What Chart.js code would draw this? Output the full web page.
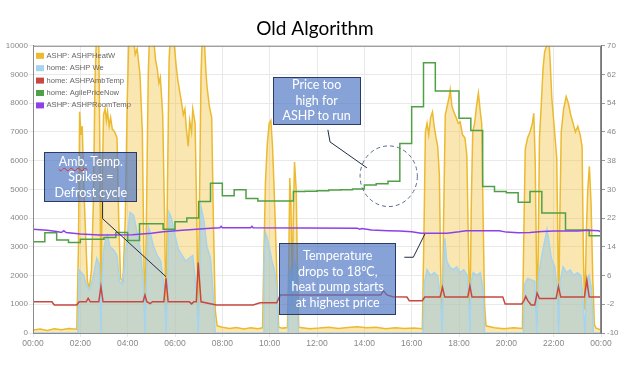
<!DOCTYPE html>
<html>
<head>
<meta charset="utf-8">
<script src="https://cdn.jsdelivr.net/npm/chart.js@4.4.1/dist/chart.umd.min.js"></script>
<style>
  html, body { margin: 0; padding: 0; background: #fff; }
  #wrap { position: relative; width: 630px; height: 365px; }
  .note {
    position: absolute; box-sizing: border-box;
    background: rgba(78, 118, 196, 0.68); border: 1px solid #2b3a66;
    color: #fff; font-family: Lato, "Open Sans", sans-serif; font-size: 12.5px;
    line-height: 15.5px; text-align: center; white-space: nowrap;
    display: flex; flex-direction: column; justify-content: center;
  }
  .typo { text-decoration: underline wavy #d83030; text-decoration-thickness: 1px; }
</style>
</head>
<body>
<div id="wrap">
  <canvas id="chart" width="630" height="365"></canvas>
</div>
<script>
// [hour, watts]
const heatW = [
  [0,100],[0.3,140],[0.6,90],[0.9,150],[1.2,110],[1.5,160],[1.85,130],
  [1.92,3000],[1.97,7700],[2.03,6900],[2.08,7200],[2.15,5000],[2.22,3500],[2.3,1800],[2.38,1550],[2.47,2200],
  [2.55,4500],[2.62,8800],[2.68,10300],[2.78,10100],[2.83,6000],[2.87,300],[2.92,5000],[2.98,7600],[3.05,7800],
  [3.1,7400],[3.15,7700],[3.22,7200],[3.28,7500],[3.35,7100],[3.45,7000],[3.55,6800],[3.62,4000],[3.7,1900],
  [3.8,1800],[3.9,4000],[3.98,8000],[4.05,10300],[4.25,10200],[4.32,9700],[4.4,9900],[4.52,9000],[4.62,7000],
  [4.68,3000],[4.73,300],[4.8,4500],[4.87,9000],[4.92,10300],[5.1,10200],[5.18,9500],[5.25,9200],[5.32,8700],
  [5.38,8900],[5.48,7600],[5.56,4000],[5.62,300],[5.68,5000],[5.75,9500],[5.8,10300],[5.95,10200],[6.05,9300],
  [6.12,8800],[6.2,8400],[6.28,8000],[6.35,7600],[6.42,7800],[6.48,7100],[6.56,6500],[6.62,7400],[6.7,7000],
  [6.75,7800],[6.85,7300],[6.92,4000],[6.98,300],[7.04,5000],[7.1,9000],[7.15,10300],[7.25,10000],[7.3,9200],
  [7.35,8600],[7.45,7900],[7.55,7500],[7.62,4000],[7.7,800],[7.78,250],
  [8.0,200],[8.3,160],[8.6,190],[8.9,140],[9.2,180],[9.5,150],[9.7,180],
  [9.75,2500],[9.82,5200],[9.9,6600],[9.98,7300],[10.05,7400],[10.12,6500],[10.18,5200],[10.25,3500],
  [10.32,1500],[10.38,200],[10.55,170],[10.75,190],
  [10.8,2000],[10.85,5400],[10.9,4500],[10.95,1500],[11.0,4000],[11.05,5950],[11.12,5000],[11.18,2000],[11.23,200],
  [11.7,150],[12.1,170],[12.5,200],[12.9,160],[13.3,190],[13.7,220],[14.1,180],[14.5,200],[14.9,150],
  [15.3,180],[15.7,160],[16.1,170],[16.45,150],
  [16.52,3500],[16.58,7000],[16.65,7300],[16.72,6900],[16.8,7500],[16.88,7700],[16.95,7200],[17.03,6800],
  [17.1,6500],[17.17,5500],[17.23,2000],[17.29,300],[17.35,4000],[17.42,7600],[17.5,7900],[17.58,8200],
  [17.63,8470],[17.7,7900],[17.78,7700],[17.88,7500],[17.97,7300],[18.05,7350],[18.15,6900],[18.25,6800],
  [18.33,6200],[18.4,3000],[18.46,300],[18.52,4500],[18.58,7000],[18.66,7300],[18.74,7900],[18.82,8350],
  [18.9,7700],[18.96,7300],[19.02,4000],[19.08,1000],[19.14,250],
  [19.5,180],[19.9,150],[20.3,180],[20.68,160],
  [20.74,3500],[20.8,6400],[20.9,6800],[21.0,7000],[21.1,7300],[21.16,7650],[21.22,6000],[21.28,2000],
  [21.3,300],[21.35,3000],[21.4,6800],[21.48,8000],[21.55,9200],[21.62,9800],[21.7,10000],[21.78,10400],
  [21.85,9500],[21.92,8200],[22.0,7400],[22.08,6600],[22.13,6100],[22.18,3000],[22.21,300],[22.26,4000],
  [22.32,7000],[22.42,7800],[22.53,8230],[22.62,8000],[22.72,7600],[22.82,7300],[22.92,7000],[23.02,7200],
  [23.12,6900],[23.2,6500],[23.26,2500],[23.32,800],[23.38,3500],[23.44,5000],[23.51,5800],[23.58,4500],
  [23.65,2000],[23.72,300],[23.78,180],[24,100]
];

// [hour, watts]
const weW = [
  [0,0],[1.9,0],
  [1.95,2200],[2.05,2100],[2.15,2000],[2.25,1700],[2.38,1500],[2.5,1800],[2.6,2200],[2.7,2600],[2.8,2400],
  [2.85,800],[2.87,0],[2.9,1500],[2.97,2800],[3.05,3200],[3.15,3400],[3.25,3000],[3.4,2900],[3.55,2700],
  [3.65,1800],[3.75,1700],[3.85,2200],[3.98,3400],[4.1,4200],[4.25,4100],[4.4,3500],[4.55,2800],[4.68,1500],
  [4.73,0],[4.78,1500],[4.87,3700],[4.95,3500],[5.1,3000],[5.25,2700],[5.4,2500],[5.55,1500],[5.62,0],
  [5.68,1500],[5.75,4200],[5.85,4000],[6.0,3400],[6.15,2900],[6.3,2700],[6.45,2500],[6.6,2600],[6.75,2700],
  [6.9,1500],[6.98,0],[7.04,1500],[7.1,4400],[7.22,3900],[7.35,3000],[7.5,2600],[7.6,1500],[7.7,0],
  [9.72,0],[9.76,2500],[9.82,3500],[9.9,3300],[10.0,2900],[10.1,2500],[10.2,2200],[10.3,1500],[10.36,0],
  [10.78,0],[10.82,2000],[10.88,2300],[10.93,1000],[10.98,2000],[11.05,2500],[11.15,2200],[11.21,0],
  [16.48,0],[16.55,1800],[16.65,2200],[16.8,2000],[16.95,2100],[17.1,2000],[17.22,1200],[17.29,0],
  [17.34,2000],[17.4,3300],[17.48,2500],[17.6,2300],[17.75,2200],[17.9,2300],[18.05,2100],[18.2,2200],
  [18.35,2000],[18.43,800],[18.46,0],[18.52,1800],[18.6,2100],[18.75,2000],[18.9,2100],[19.02,1500],[19.08,0],
  [20.72,0],[20.78,1700],[20.9,1900],[21.05,1850],[21.2,1800],[21.28,0],[21.34,1800],[21.42,2300],
  [21.52,2800],[21.62,3200],[21.72,3600],[21.78,3300],[21.9,2600],[22.05,2300],[22.15,1500],[22.21,0],
  [22.27,1800],[22.4,2300],[22.55,2100],[22.7,2200],[22.85,2000],[23.0,2100],[23.15,2000],[23.25,1000],
  [23.32,0],[23.4,1800],[23.5,2000],[23.6,1500],[23.68,0],[24,0]
];

// [hour, °C]
const ambTemp = [
  [0,-1.3],[0.8,-1.3],[0.9,-2.2],[1.85,-2.2],[1.95,-1.3],[2.25,-1.3],[2.33,-0.3],[2.42,-1.3],[2.78,-1.3],
  [2.87,2.9],[2.96,-1.3],[4.65,-1.3],[4.73,0.6],[4.81,-1.3],[4.95,-1.8],[5.05,-1.3],[5.53,-1.3],[5.62,5.2],
  [5.71,-1.3],[6.6,-1.3],[6.7,-1.9],[6.8,-1.3],[6.9,-1.3],[6.98,9.6],[7.1,-1.3],[7.75,-2.2],[9.3,-2.2],
  [9.6,-1.6],[10.3,-1.6],[10.45,0.6],[14.7,0.6],[14.8,1.8],[14.95,0.6],[15.2,0.1],[15.8,0.0],[15.9,-1.0],
  [16.45,-1.0],[16.55,0.0],[17.2,0.0],[17.3,2.7],[17.4,0.0],[18.37,0.0],[18.46,3.1],[18.55,0.0],[19.85,0.0],
  [19.95,-1.9],[20.65,-1.9],[20.75,-0.9],[20.82,0.2],[20.9,-0.9],[21.05,-2.2],[21.2,-2.2],[21.3,1.1],
  [21.4,-0.4],[22.1,-0.4],[22.2,2.9],[22.3,0.0],[23.3,0.0],[23.4,4.8],[23.5,0.0],[24,0.0]
];

// [hour, p/kWh], half-hour Agile slots
const agilePrice = [
  [0,15.4],[0.5,17.9],[1,15.9],[1.5,15.2],[2,16.1],[2.5,16.1],[3,16.6],[3.5,18.0],[4,15.8],[4.5,20.4],
  [5,20.4],[5.5,18.9],[6,21.0],[6.5,22.0],[7,26.6],[7.5,31.7],[8,28.2],[8.5,29.9],[9,27.5],[9.5,26.8],
  [10,26.8],[10.5,26.8],[11,29.4],[11.5,29.5],[12,29.6],[12.5,29.8],[13,29.9],[13.5,30.1],[14,31.2],
  [14.5,31.6],[15,32.3],[15.5,42.8],[16,53.0],[16.5,65.3],[17,57.4],[17.5,57.4],[18,49.8],[18.5,46.4],
  [19,30.8],[19.5,29.4],[20,29.1],[20.5,26.4],[21,29.4],[21.5,23.4],[22,23.4],[22.5,18.7],[23,18.7],
  [23.5,17.1],[24,17.1]
];

// [hour, °C]
const roomTemp = [
  [0,18.9],[0.6,18.6],[1.0,18.3],[1.2,18.0],[1.3,18.5],[1.4,18.0],[2.0,17.6],[2.8,17.3],[4.2,17.4],
  [5.0,17.8],[5.5,18.2],[6.3,18.6],[6.9,18.9],[7.5,19.2],[7.9,19.3],[7.95,19.7],[8.0,19.3],[9.2,19.3],
  [9.25,19.7],[9.3,19.3],[13.7,19.2],[13.8,18.9],[13.9,19.1],[14.3,18.7],[15.0,18.5],[15.5,18.4],
  [16.0,18.2],[16.4,17.8],[17.5,17.8],[18.0,18.2],[18.3,18.5],[19.7,18.5],[20.0,18.1],[20.5,17.9],
  [21.0,18.0],[21.5,18.3],[22.0,18.4],[23.0,18.4],[23.5,18.6],[23.9,18.5],[24,18.1]
];

const seriesNames = ['ASHP: ASHPHeatW', 'home: ASHP We', 'home: ASHPAmbTemp', 'home: AgilePriceNow', 'ASHP: ASHPRoomTemp'];
const seriesColors = ['rgb(236,186,48)', 'rgb(166,212,238)', 'rgb(198,72,64)', 'rgb(80,160,70)', 'rgb(140,64,232)'];

const toPoints = (pairs) => pairs.map(p => ({x: p[0], y: p[1]}));
const hh = (v) => String(v % 24).padStart(2, '0') + ':00';

// callouts, in [hour, watts] on the left axis
const notes = [
  {html: '<span class="typo">Amb.</span> Temp.<br>Spikes =<br>Defrost cycle', x0: 0.48, x1: 4.41, y0: 6296, y1: 4554},
  {html: 'Price too<br>high for<br>ASHP to run', x0: 10.13, x1: 13.84, y0: 8930, y1: 7247},
  {html: 'Temperature<br>drops to 18°C,<br>heat pump starts<br>at highest price', x0: 10.41, x1: 15.34, y0: 3125, y1: 627}
];
const leaders = [
  [[2.94, 4575], [2.94, 3982], [5.62, 1961]],
  [[12.46, 7073], [12.55, 6654], [14.11, 5749]],
  [[15.69, 2637], [16.07, 2637], [16.56, 3449]]
];
const ring = {x: 15.03, y: 5459, rx: 1.21, ry: 1056};

const overlay = {
  id: 'overlay',
  afterDraw(chart) {
    const {ctx, chartArea: a, scales: {x, y}} = chart;
    ctx.save();
    ctx.strokeStyle = '#8a8a8a';
    ctx.lineWidth = 1;
    ctx.strokeRect(a.left + 0.5, a.top + 0.5, a.right - a.left - 1, a.bottom - a.top);

    // legend
    ctx.font = '7.6px "Liberation Sans", Arial, sans-serif';
    ctx.textBaseline = 'middle';
    seriesNames.forEach((name, i) => {
      const ry = a.top + 10 + i * 12.4;
      ctx.fillStyle = seriesColors[i];
      ctx.fillRect(a.left + 3, ry - 3, 8, 6);
      ctx.fillStyle = '#666';
      ctx.fillText(name, a.left + 13.5, ry);
    });

    ctx.strokeStyle = '#1e2a44';
    ctx.lineWidth = 1;
    leaders.forEach(path => {
      ctx.beginPath();
      path.forEach((p, i) => {
        const px = x.getPixelForValue(p[0]), py = y.getPixelForValue(p[1]);
        if (i) ctx.lineTo(px, py); else ctx.moveTo(px, py);
      });
      ctx.stroke();
    });

    const cx = x.getPixelForValue(ring.x), cy = y.getPixelForValue(ring.y);
    const rx = x.getPixelForValue(ring.x + ring.rx) - cx;
    const ry = cy - y.getPixelForValue(ring.y + ring.ry);
    ctx.strokeStyle = '#5b6b8c';
    ctx.setLineDash([4, 3]);
    ctx.beginPath();
    ctx.ellipse(cx, cy, rx, ry, 0, 0, Math.PI * 2);
    ctx.stroke();
    ctx.restore();
  }
};

const chart = new Chart(document.getElementById('chart'), {
  type: 'line',
  data: {
    datasets: [
      {label: seriesNames[0], data: toPoints(heatW), yAxisID: 'y', borderColor: seriesColors[0],
       backgroundColor: 'rgba(242,196,70,0.42)', fill: 'origin', borderWidth: 1.5, order: 5},
      {label: seriesNames[1], data: toPoints(weW), yAxisID: 'y', borderColor: seriesColors[1],
       backgroundColor: 'rgba(150,198,228,0.5)', fill: 'origin', borderWidth: 1.5, order: 4},
      {label: seriesNames[2], data: toPoints(ambTemp), yAxisID: 'y1', borderColor: seriesColors[2],
       borderWidth: 1.5, fill: false, order: 3},
      {label: seriesNames[3], data: toPoints(agilePrice), yAxisID: 'y1', borderColor: seriesColors[3],
       borderWidth: 1.5, fill: false, stepped: true, order: 2},
      {label: seriesNames[4], data: toPoints(roomTemp), yAxisID: 'y1', borderColor: seriesColors[4],
       borderWidth: 1.5, fill: false, order: 1}
    ]
  },
  options: {
    responsive: false,
    animation: false,
    devicePixelRatio: 1,
    elements: {point: {radius: 0}, line: {tension: 0}},
    layout: {padding: 0},
    plugins: {
      legend: {display: false},
      tooltip: {enabled: false},
      title: {
        display: true, text: 'Old Algorithm', color: '#000',
        font: {family: 'Lato, "Open Sans", sans-serif', size: 19, weight: 'normal'},
        padding: {top: 17, bottom: 6}
      }
    },
    scales: {
      x: {
        type: 'linear', min: 0, max: 24,
        grid: {color: '#e9e9e9', tickLength: 4},
        border: {color: '#777'},
        ticks: {stepSize: 2, color: '#888', padding: 2, maxRotation: 0,
                font: {family: '"Liberation Sans", Arial', size: 8.5}, callback: v => hh(v)},
        afterFit: s => { s.height = 32; }
      },
      y: {
        position: 'left', min: 0, max: 10000,
        grid: {color: '#e9e9e9', tickLength: 4},
        border: {color: '#777'},
        ticks: {stepSize: 1000, color: '#888', padding: 1, callback: v => String(v),
                font: {family: '"Liberation Sans", Arial', size: 8}},
        afterFit: s => { s.width = 33; }
      },
      y1: {
        position: 'right', min: -10, max: 70,
        grid: {drawOnChartArea: false, color: '#999', tickLength: 4},
        border: {color: '#777'},
        ticks: {stepSize: 8, color: '#888', padding: 2, callback: v => String(v),
                font: {family: '"Liberation Sans", Arial', size: 8}},
        afterFit: s => { s.width = 29; }
      }
    }
  },
  plugins: [overlay]
});

const wrap = document.getElementById('wrap');
notes.forEach(n => {
  const d = document.createElement('div');
  d.className = 'note';
  const l = chart.scales.x.getPixelForValue(n.x0), r = chart.scales.x.getPixelForValue(n.x1);
  const t = chart.scales.y.getPixelForValue(n.y0), b = chart.scales.y.getPixelForValue(n.y1);
  d.style.left = l + 'px';
  d.style.top = t + 'px';
  d.style.width = (r - l) + 'px';
  d.style.height = (b - t) + 'px';
  const inner = document.createElement('div');
  inner.innerHTML = n.html;
  d.appendChild(inner);
  wrap.appendChild(d);
});
</script>
</body>
</html>
